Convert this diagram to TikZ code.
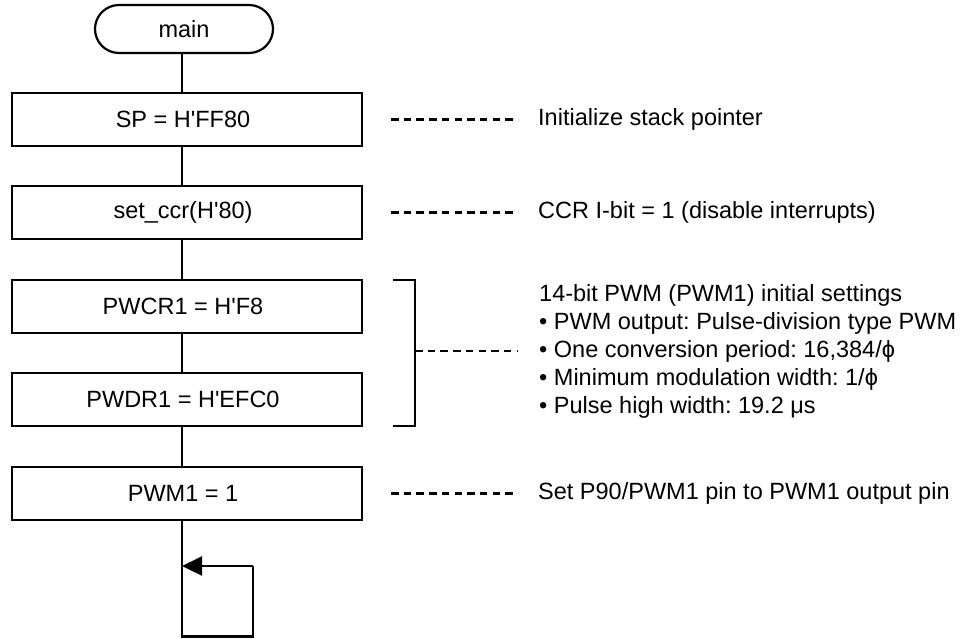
\documentclass[tikz,border=0pt]{standalone}
\usepackage{fontspec}
\setmainfont{Liberation Sans}
\usetikzlibrary{arrows.meta}
\frenchspacing
\newcommand{\hq}{\textquotesingle}
\begin{document}
\begin{tikzpicture}[x=1pt,y=-1pt,
  every node/.style={font=\fontsize{23.5}{28}\selectfont, inner sep=0pt},
  flow/.style={line width=2.2pt},
  procbox/.style={draw, line width=2.2pt, minimum width=350pt, minimum height=53pt,
    execute at begin node=\hspace*{-8pt}},
  termbox/.style={draw, line width=2.2pt, rounded corners=24pt,
    minimum width=178pt, minimum height=48pt},
  note/.style={anchor=west},
  leader/.style={line width=2.4pt, dash pattern=on 7.5pt off 5.2pt}]
\useasboundingbox (0,0) rectangle (974,638);

% vertical flow line
\coordinate (spine) at (182,0);

% flowchart steps
\node[termbox] (main) at (184,29) {main};
\node[procbox] (sp)   at (187,119.5) {SP = H\hq FF80};
\node[procbox] (ccr)  at (187,212.5) {set\_ccr(H\hq 80)};
\node[procbox] (pwcr) at (187,306.5) {PWCR1 = H\hq F8};
\node[procbox] (pwdr) at (187,399.5) {PWDR1 = H\hq EFC0};
\node[procbox] (pwm)  at (187,493.5) {PWM1 = 1};

\draw[flow] (main.south -| spine) -- (sp.north -| spine);
\draw[flow] (sp.south -| spine) -- (ccr.north -| spine);
\draw[flow] (ccr.south -| spine) -- (pwcr.north -| spine);
\draw[flow] (pwcr.south -| spine) -- (pwdr.north -| spine);
\draw[flow] (pwdr.south -| spine) -- (pwm.north -| spine);

% endless loop
\coordinate (loopbl) at (182,636.5);
\coordinate (loopbr) at (253,636.5);
\coordinate (looptr) at (253,566);
\coordinate (loopin) at (182,566);
\draw[flow] (pwm.south -| spine) -- (loopbl) -- (loopbr) -- (looptr)
  edge[flow, -{Triangle[length=20pt,width=19pt]}] (loopin);

% comments
\node[note] (c1) at (538,119.5) {Initialize stack pointer};
\coordinate (d1) at (391,119.5);
\draw[leader] (d1) -- (c1.west -| 518,0);

\node[note] (c2) at (538,212.5) {CCR I-bit = 1 (disable interrupts)};
\coordinate (d2) at (391,212.5);
\draw[leader] (d2) -- (c2.west -| 518,0);

\node[note] (c5) at (538,493.5) {Set P90/PWM1 pin to PWM1 output pin};
\coordinate (d5) at (391,493.5);
\draw[leader] (d5) -- (c5.west -| 518,0);

% bracket grouping the PWM register settings
\coordinate (bt) at (393,280);
\coordinate (btr) at (415,280);
\coordinate (bbr) at (415,426);
\coordinate (bb) at (393,426);
\draw[flow] (bt) -- (btr) -- (bbr) -- (bb);
\coordinate (bmid) at (415,351);

\node[note] (p0) at (539,295) {14-bit PWM (PWM1) initial settings};
\node[note] (p1) at (539,323) {• PWM output: Pulse-division type PWM};
\node[note] (p2) at (539,351) {• One conversion period: 16,384/ϕ};
\node[note] (p3) at (539,379) {• Minimum modulation width: 1/ϕ};
\node[note] (p4) at (539,407) {• Pulse high width: 19.2 μs};
\draw[leader] (bmid) -- (p2.west -| 517,0);
\end{tikzpicture}
\end{document}
